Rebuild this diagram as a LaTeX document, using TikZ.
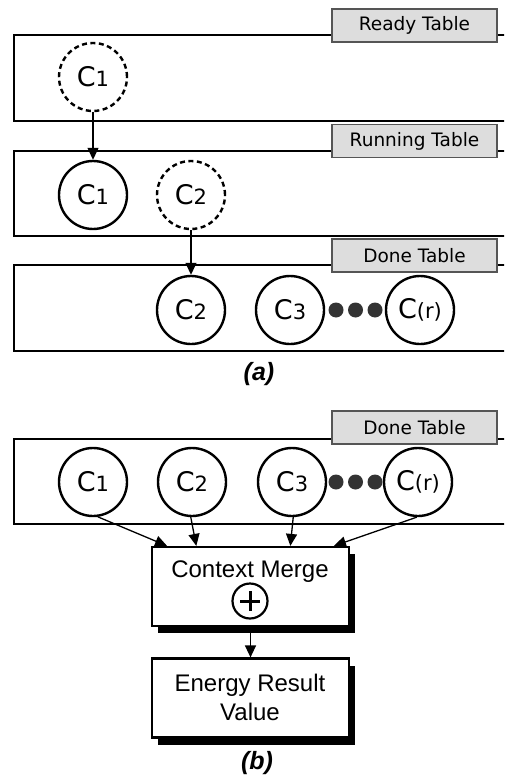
\documentclass[tikz,border=0pt]{standalone}
\usepackage{fontspec}
\setmainfont{Liberation Sans}
\newfontfamily\vfont{DejaVu Sans}
\usetikzlibrary{arrows.meta,calc}

\definecolor{labelfill}{HTML}{DDDDDD}
\definecolor{labeledge}{HTML}{555555}
\definecolor{dotfill}{HTML}{333333}

\newcommand{\cname}[2]{{\vfont\fontsize{27}{27}\selectfont C}{\vfont\fontsize{21}{21}\selectfont #2}}

\tikzset{
  tablebox/.style={draw=black, line width=1.4pt},
  tablelabel/.style={draw=labeledge, fill=labelfill, line width=1.4pt,
    minimum width=165pt, minimum height=33pt, inner sep=0pt,
    font=\vfont\fontsize{18.5}{18.5}\selectfont},
  ctx/.style={circle, draw=black, line width=2.4pt, minimum size=68pt, inner sep=0pt},
  ctxpending/.style={ctx, dash pattern=on 5pt off 3.5pt},
  dotmark/.style={circle, fill=dotfill, minimum size=15pt, inner sep=0pt},
  arr/.style={line width=1.3pt, -{Triangle[length=12pt,width=11pt]}},
  procbox/.style={draw=black, fill=white, line width=2.2pt,
    minimum width=197pt, minimum height=79pt, inner sep=0pt},
  shadowbox/.style={fill=black, minimum width=197pt, minimum height=79pt, inner sep=0pt},
  proctext/.style={font=\fontsize{24}{29}\selectfont, align=center, inner sep=0pt},
  caption/.style={font=\bfseries\itshape\fontsize{25}{25}\selectfont, inner sep=0pt}
}

\begin{document}
\begin{tikzpicture}[x=1pt, y=-1pt]
\useasboundingbox (0,0) rectangle (504,781);
\clip (0,0) rectangle (504,781);

% ---------------- (a) ----------------
% Ready table
\draw[tablebox] (14,35) rectangle (520,121);
\node[tablelabel] (lready) at (414.5,25.5) {Ready Table};
\node[ctxpending] (rc1) at (93,77) {\cname{C}{1}};

% Running table
\draw[tablebox] (14,151) rectangle (520,236);
\node[tablelabel] (lrun) at (414.5,141) {Running Table};
\node[ctx] (uc1) at (93,195) {\cname{C}{1}};
\node[ctxpending] (uc2) at (191,195) {\cname{C}{2}};

% Done table
\draw[tablebox] (14,265) rectangle (520,351);
\node[tablelabel] (ldone) at (414.5,255.5) {Done Table};
\node[ctx] (dc2) at (191,310) {\cname{C}{2}};
\node[ctx] (dc3) at (290,310) {\cname{C}{3}};
\node[ctx] (dcr) at (420,310) {{\vfont\fontsize{27}{27}\selectfont C}{\vfont\fontsize{21}{21}\selectfont(r)}};
\node[dotmark] (da1) at (336,310) {};
\node[dotmark] (da2) at (355.5,310) {};
\node[dotmark] (da3) at (375,310) {};

\draw[arr] (rc1.south) -- (uc1.north);
\draw[arr] (uc2.south) -- (dc2.north);

\node[caption] (capa) at (259,374) {(a)};

% ---------------- (b) ----------------
\draw[tablebox] (14,439) rectangle (520,524);
\node[tablelabel] (ldoneb) at (414.5,427.5) {Done Table};
\node[ctx] (bc1) at (93,482) {\cname{C}{1}};
\node[ctx] (bc2) at (192,482) {\cname{C}{2}};
\node[ctx] (bc3) at (292,482) {\cname{C}{3}};
\node[ctx] (bcr) at (418,482) {{\vfont\fontsize{27}{27}\selectfont C}{\vfont\fontsize{21}{21}\selectfont(r)}};
\node[dotmark] (db1) at (336,482) {};
\node[dotmark] (db2) at (355.5,482) {};
\node[dotmark] (db3) at (375,482) {};

% Context merge block
\node[shadowbox] (cmshadow) at (256.5,593.5) {};
\node[procbox] (cm) at (250.5,586.5) {};
\node[proctext] (cmtext) at (250,572) {Context Merge};
\node[circle, draw=black, line width=2.2pt, minimum size=35pt, inner sep=0pt] (plus) at (250,601) {};
\draw[line width=3pt] ($(plus.center)+(-10,0)$) -- ($(plus.center)+(10,0)$);
\draw[line width=3pt] ($(plus.center)+(0,-10)$) -- ($(plus.center)+(0,10)$);

% Energy result block
\node[shadowbox] (ershadow) at (256.5,705) {};
\node[procbox] (er) at (250.5,698) {};
\node[proctext] (ertext) at (250,697) {Energy Result\\Value};

\draw[arr] (bc1.-82) -- ($(cm.north west)!0.081!(cm.north east)$);
\draw[arr] (bc2.-92) -- ($(cm.north west)!0.228!(cm.north east)$);
\draw[arr] (bc3.-88) -- ($(cm.north west)!0.70!(cm.north east)$);
\draw[arr] (bcr.-92) -- ($(cm.north west)!0.919!(cm.north east)$);
\draw[arr] (cm.south) -- (er.north);

\node[caption] (capb) at (257,763) {(b)};
\end{tikzpicture}
\end{document}
